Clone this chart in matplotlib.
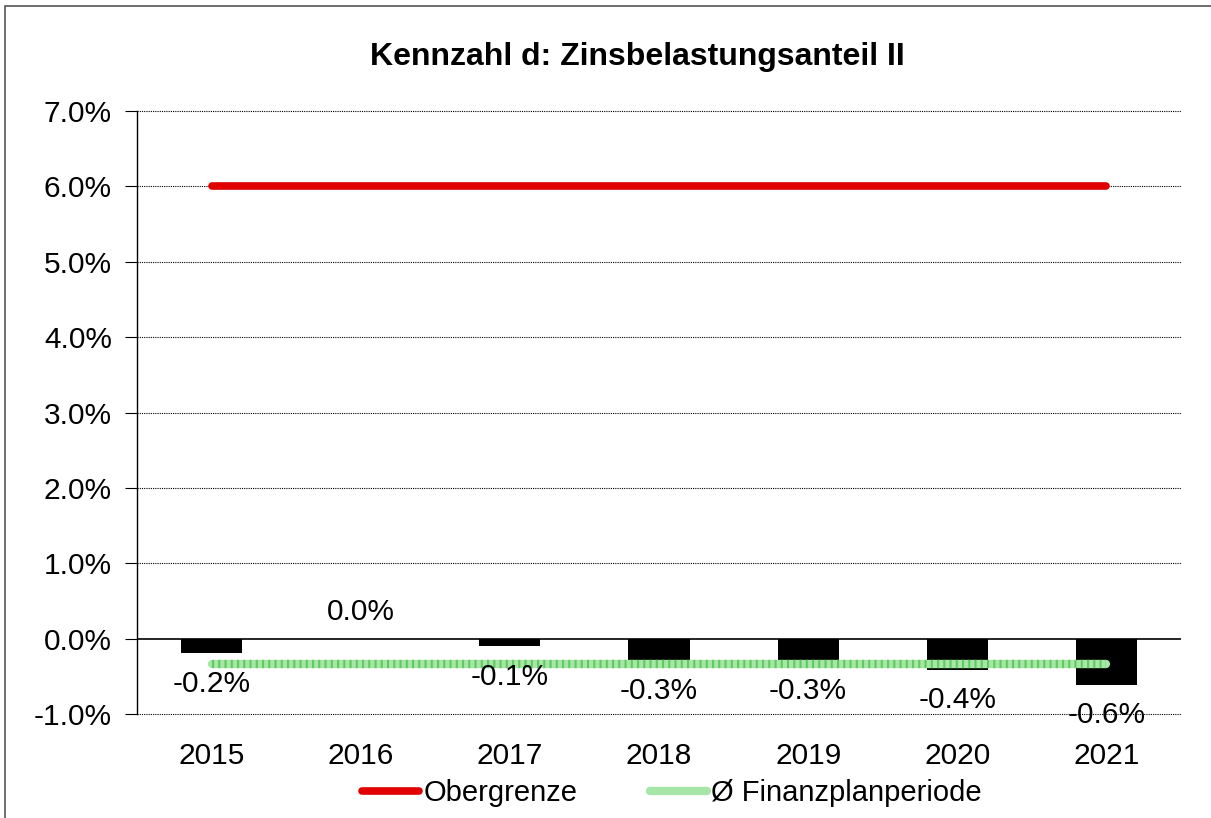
import matplotlib
matplotlib.use('Agg')
import matplotlib.pyplot as plt
from matplotlib.patches import Rectangle
from matplotlib.ticker import FuncFormatter

plt.rcParams['font.family'] = ['Liberation Sans', 'DejaVu Sans']

# Data (percent)
years = ['2015', '2016', '2017', '2018', '2019', '2020', '2021']
zinsanteil = [-0.19, 0.0, -0.10, -0.29, -0.29, -0.41, -0.61]
labels = ['-0.2%', '0.0%', '-0.1%', '-0.3%', '-0.3%', '-0.4%', '-0.6%']
obergrenze = [6.0] * 7
durchschnitt = [-0.34] * 7
yticks = [-1, 0, 1, 2, 3, 4, 5, 6, 7]

fig = plt.figure(figsize=(12.11, 8.18), dpi=100)
ax = fig.add_axes([137 / 1211, 1 - 714 / 818, (1181 - 137) / 1211, (714 - 111) / 818])

x = list(range(len(years)))

# Bars
ax.bar(x, zinsanteil, width=0.41, color='black', zorder=3)

# Data labels
for xi, v, lab in zip(x, zinsanteil, labels):
    if v < 0:
        ax.annotate(lab, (xi, v), xytext=(0, -22), textcoords='offset points',
                    ha='center', va='center', fontsize=21.5, zorder=6)
    else:
        ax.annotate(lab, (xi, v), xytext=(0, 19), textcoords='offset points',
                    ha='center', va='center', fontsize=21.5, zorder=6)

# Lines
ax.plot(x, obergrenze, color='#e00000', lw=5.5, solid_capstyle='round',
        zorder=4, label='Obergrenze')
ax.plot(x, durchschnitt, color='#a6e6a6', lw=6, solid_capstyle='round',
        zorder=5, label='Ø Finanzplanperiode')
ax.plot(x, durchschnitt, color='#62c862', lw=6, ls=(0, (0.25, 0.5)),
        zorder=5)

# Gridlines (dotted), drawn unclipped so the bottom one shows
for t in yticks:
    if t != 0:
        ax.axhline(t, color='black', lw=0.8, ls=(0, (1, 1)), zorder=0, clip_on=False)

# Axes
ax.set_xlim(-0.5, 6.5)
ax.set_ylim(-1.0, 7.0)
ax.set_yticks(yticks)
ax.yaxis.set_major_formatter(FuncFormatter(lambda v, p: f'{v:.1f}%'))
ax.set_xticks(x)
ax.set_xticklabels(years)
ax.tick_params(axis='x', length=0, pad=20, labelsize=21.5)
ax.tick_params(axis='y', length=9, width=0.8, pad=9, labelsize=21.5, direction='out')

ax.axhline(0, color='black', lw=1.2, zorder=4)
for s in ['top', 'right', 'bottom']:
    ax.spines[s].set_visible(False)
ax.spines['left'].set_linewidth(1.0)

fig.text(637 / 1211, 1 - 57 / 818, 'Kennzahl d: Zinsbelastungsanteil II',
         ha='center', va='center', fontsize=23, fontweight='bold')

handles, lbls = ax.get_legend_handles_labels()
fig.legend(handles, lbls, loc='center', bbox_to_anchor=(672 / 1211, 1 - 793 / 818),
           ncol=2, frameon=False, fontsize=21, handlelength=1.95, handletextpad=0.15,
           columnspacing=2.5)

# Outer border
fig.patches.append(Rectangle((5 / 1211, -0.01), 1.0, 1 - 6 / 818 + 0.01,
                             transform=fig.transFigure, fill=False,
                             edgecolor='#555555', lw=1.2))

plt.savefig('out.png', dpi=100)
